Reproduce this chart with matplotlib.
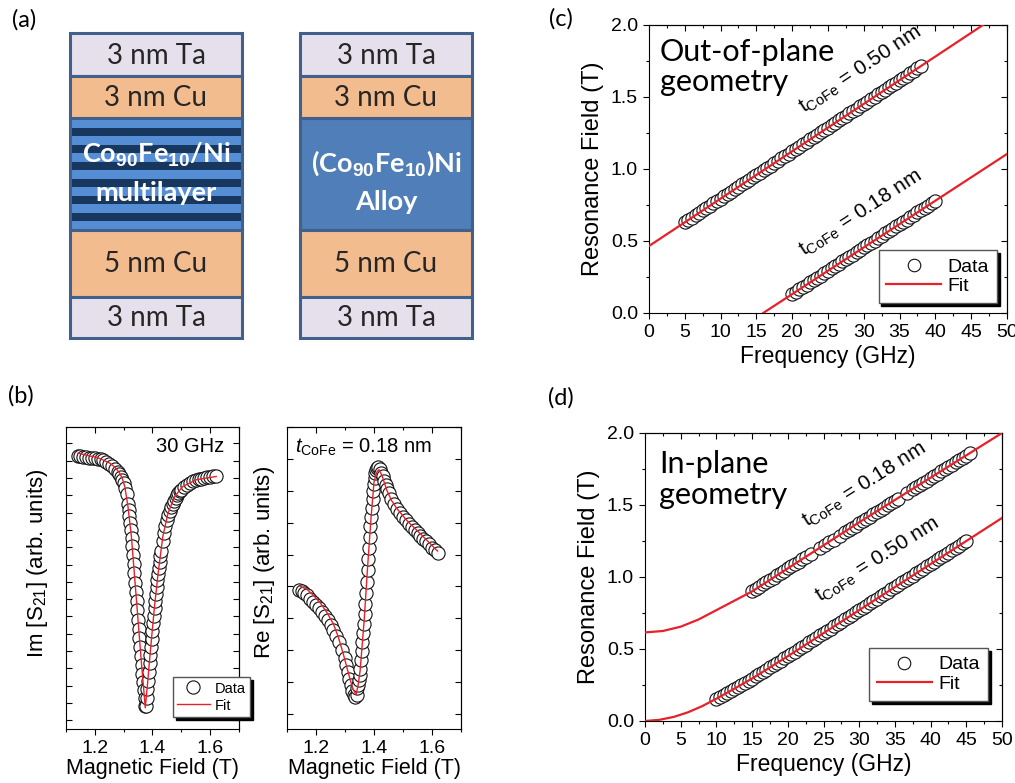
import matplotlib
matplotlib.use('Agg')
import matplotlib.pyplot as plt
from matplotlib.patches import Rectangle
from matplotlib.ticker import MultipleLocator, FormatStrFormatter, NullFormatter

plt.rcParams['font.family'] = ['Liberation Sans', 'DejaVu Sans']
plt.rcParams['mathtext.fontset'] = 'custom'
plt.rcParams['mathtext.rm'] = 'Liberation Sans'
plt.rcParams['mathtext.it'] = 'Liberation Sans:italic'
plt.rcParams['mathtext.bf'] = 'Liberation Sans:bold'

# ---------------- data ----------------
# (a) layer stacks, top to bottom
layer_labels = ['3 nm Ta', '3 nm Cu', None, '5 nm Cu', '3 nm Ta']
layer_heights = [43, 42, 112, 67, 41]   # px
layer_colors = ['#E6E0EC', '#F3BC8F', None, '#F3BC8F', '#E6E0EC']
ml_text = [r'Co$_{\mathbf{90}}$Fe$_{\mathbf{10}}$/Ni', 'multilayer']
alloy_text = [r'(Co$_{\mathbf{90}}$Fe$_{\mathbf{10}}$)Ni', 'Alloy']

# (b) Im[S21] at 30 GHz
B_im = [1.14, 1.15, 1.16, 1.17, 1.18, 1.19, 1.20, 1.21, 1.22, 1.23, 1.24, 1.25, 1.26, 1.27, 1.28,
        1.285, 1.29, 1.295, 1.30, 1.305, 1.31, 1.315,
        1.3175, 1.32, 1.3225, 1.325, 1.3275, 1.33, 1.3325, 1.335, 1.3375, 1.34,
        1.3425, 1.345, 1.3475, 1.35, 1.3525, 1.355, 1.3575, 1.36, 1.3625, 1.365,
        1.3675, 1.37, 1.3725, 1.375, 1.3775, 1.38, 1.3825, 1.385, 1.3875, 1.39,
        1.3925, 1.395, 1.3975, 1.40, 1.4025, 1.405, 1.4075, 1.41, 1.4125, 1.415,
        1.4175, 1.42, 1.4225, 1.425, 1.4275, 1.43,
        1.435, 1.44, 1.445, 1.45, 1.455, 1.46, 1.465, 1.47, 1.475, 1.48, 1.485, 1.49, 1.495, 1.50,
        1.51, 1.52, 1.53, 1.54, 1.55, 1.56, 1.57, 1.58, 1.59, 1.60, 1.61, 1.62]
im_s21 = [15.30, 15.25, 15.22, 15.20, 15.18, 15.17, 15.15, 15.12, 15.10, 15.02, 14.92, 14.82, 14.70, 14.55, 14.35,
          14.22, 14.08, 13.90, 13.70, 13.45, 13.10, 12.50,
          12.15, 11.80, 11.42, 11.00, 10.55, 10.05, 9.55, 9.03, 8.50, 7.95,
          7.42, 6.88, 6.35, 5.80, 5.27, 4.75, 4.22, 3.70, 3.20, 2.70,
          2.22, 1.75, 1.30, 0.85, 0.85, 1.30, 1.80, 2.30, 2.80, 3.30,
          3.78, 4.25, 4.72, 5.18, 5.62, 6.05, 6.48, 6.90, 7.30, 7.70,
          8.08, 8.45, 8.80, 9.15, 9.48, 9.80,
          10.35, 10.82, 11.22, 11.55, 11.85, 12.10, 12.32, 12.52, 12.70, 12.86, 13.00, 13.12, 13.23, 13.33,
          13.50, 13.62, 13.72, 13.80, 13.86, 13.92, 13.97, 14.01, 14.04, 14.07, 14.09, 14.10]
B_im_fit = [1.142, 1.16, 1.18, 1.206, 1.23, 1.252, 1.27, 1.286, 1.296, 1.304, 1.315, 1.327, 1.338,
            1.350, 1.361, 1.369, 1.375, 1.382, 1.392, 1.407, 1.421, 1.436, 1.454, 1.477, 1.505, 1.552, 1.621]
im_s21_fit = [15.44, 15.36, 15.28, 15.20, 15.03, 14.86, 14.62, 14.29, 13.95, 13.51, 12.36, 10.62, 8.30,
              5.79, 3.47, 1.93, 0.73, 1.93, 3.86, 6.56, 8.69, 10.62, 11.97, 12.93, 13.51, 13.90, 14.09]

# (b) Re[S21]
B_re = [1.14, 1.15, 1.16, 1.17, 1.18, 1.19, 1.20, 1.21, 1.22, 1.23, 1.24, 1.25, 1.26, 1.27, 1.28, 1.29, 1.30,
        1.305, 1.31, 1.315, 1.32, 1.325, 1.33, 1.335, 1.34,
        1.3425, 1.345, 1.3475, 1.35, 1.3525, 1.355, 1.3575, 1.36, 1.3625, 1.365,
        1.3675, 1.37, 1.3725, 1.375, 1.3775, 1.38, 1.3825, 1.385, 1.3875, 1.39,
        1.3925, 1.395, 1.3975, 1.40, 1.4025, 1.405, 1.4075, 1.41,
        1.415, 1.42, 1.425, 1.43, 1.435, 1.44, 1.445, 1.45,
        1.46, 1.47, 1.48, 1.49, 1.50, 1.51, 1.52, 1.53, 1.54, 1.55, 1.56, 1.57, 1.58, 1.59, 1.60, 1.61, 1.62]
re_s21 = [3.90, 3.85, 3.80, 3.72, 3.62, 3.52, 3.42, 3.32, 3.20, 3.08, 2.95, 2.80, 2.63, 2.45, 2.25, 2.02, 1.75,
          1.55, 1.33, 1.10, 0.90, 0.72, 0.58, 0.52, 0.58,
          0.80, 0.92, 1.05, 1.22, 1.40, 1.68, 1.96, 2.25, 2.53, 2.82,
          3.14, 3.46, 3.78, 4.14, 4.50, 4.86, 5.22, 5.55, 5.88, 6.18,
          6.46, 6.73, 6.98, 7.20, 7.40, 7.55, 7.66, 7.72,
          7.74, 7.68, 7.57, 7.45, 7.32, 7.18, 7.05, 6.93,
          6.75, 6.58, 6.43, 6.30, 6.18, 6.07, 5.97, 5.87, 5.78, 5.68, 5.58, 5.50, 5.41, 5.32, 5.22, 5.13, 5.05]
B_re_fit = [1.145, 1.17, 1.191, 1.215, 1.237, 1.26, 1.277, 1.295, 1.306, 1.317, 1.327, 1.338, 1.345, 1.352,
            1.366, 1.377, 1.389, 1.40, 1.41, 1.417, 1.427, 1.444, 1.46, 1.479, 1.513, 1.56, 1.619]
re_s21_fit = [4.01, 3.90, 3.72, 3.48, 3.19, 2.82, 2.41, 1.85, 1.47, 1.10, 0.79, 0.61, 0.90, 1.36,
              2.93, 4.50, 6.07, 7.28, 7.59, 7.66, 7.49, 7.02, 6.70, 6.44, 6.07, 5.65, 5.11]

# (c) out-of-plane
f_oop_050 = [5.0, 5.5, 6.0, 6.5, 7.0, 7.5, 8.0, 8.5, 9.0, 9.5,
             10.0, 10.5, 11.0, 11.5, 12.0, 12.5, 13.0, 13.5, 14.0, 14.5,
             15.0, 15.5, 16.0, 16.5, 17.0, 17.5, 18.0, 18.5, 19.0, 19.5,
             20.0, 20.5, 21.0, 21.5, 22.0, 22.5, 23.0, 23.5, 24.0, 24.5,
             25.0, 25.5, 26.0, 26.5, 27.0, 27.5, 28.0, 28.5, 29.0, 29.5,
             30.0, 30.5, 31.0, 31.5, 32.0, 32.5, 33.0, 33.5, 34.0, 34.5,
             35.0, 35.5, 36.0, 36.5, 37.0, 37.5, 38.0]
H_oop_050 = [0.630, 0.646, 0.662, 0.679, 0.695, 0.712, 0.728, 0.745, 0.761, 0.778,
             0.794, 0.810, 0.827, 0.843, 0.860, 0.876, 0.893, 0.909, 0.926, 0.942,
             0.959, 0.975, 0.991, 1.008, 1.024, 1.041, 1.057, 1.074, 1.090, 1.107,
             1.123, 1.139, 1.156, 1.172, 1.189, 1.205, 1.222, 1.238, 1.255, 1.271,
             1.288, 1.304, 1.320, 1.337, 1.353, 1.370, 1.386, 1.403, 1.419, 1.436,
             1.452, 1.468, 1.485, 1.501, 1.518, 1.534, 1.551, 1.567, 1.584, 1.600,
             1.616, 1.633, 1.649, 1.666, 1.682, 1.699, 1.715]
f_oop_018 = [20.0, 20.5, 21.0, 21.5, 22.0, 22.5, 23.0, 23.5, 24.0, 24.5,
             25.0, 25.5, 26.0, 26.5, 27.0, 27.5, 28.0, 28.5, 29.0, 29.5,
             30.0, 30.5, 31.0, 31.5, 32.0, 32.5, 33.0, 33.5, 34.0, 34.5,
             35.0, 35.5, 36.0, 36.5, 37.0, 37.5, 38.0, 38.5, 39.0, 39.5, 40.0]
H_oop_018 = [0.131, 0.147, 0.163, 0.179, 0.196, 0.212, 0.228, 0.244, 0.260, 0.277,
             0.293, 0.309, 0.325, 0.341, 0.358, 0.374, 0.390, 0.406, 0.422, 0.439,
             0.455, 0.471, 0.487, 0.503, 0.520, 0.536, 0.552, 0.568, 0.584, 0.601,
             0.617, 0.633, 0.649, 0.665, 0.682, 0.698, 0.714, 0.730, 0.746, 0.763, 0.779]
f_oop_050_fit = [0.0, 50.0]
H_oop_050_fit = [0.465, 2.110]
f_oop_018_fit = [15.96, 50.0]
H_oop_018_fit = [0.0, 1.104]

# (d) in-plane
f_ip_018 = [15.0, 15.5, 16.0, 16.5, 17.0, 17.5, 18.0, 18.5, 19.0, 19.5, 20.0, 20.5, 21.0, 21.5, 22.0, 22.5,
            23.3, 24.5, 25.2, 25.8, 26.4, 27.3,
            28.0, 28.5, 29.0, 29.5, 30.0, 30.5, 31.0, 31.5, 32.0, 32.5, 33.0, 33.5, 34.0, 34.5, 35.0, 35.5,
            36.7,
            37.5, 38.0, 38.5, 39.0, 39.5, 40.0, 40.5, 41.0, 41.5, 42.0, 42.5, 43.0, 43.5, 44.0, 44.5, 45.0, 45.5]
H_ip_018 = [0.900, 0.916, 0.932, 0.948, 0.964, 0.980, 0.996, 1.012, 1.028, 1.044, 1.060, 1.076, 1.091, 1.107, 1.123, 1.138,
            1.163, 1.201, 1.223, 1.241, 1.260, 1.288,
            1.310, 1.326, 1.341, 1.357, 1.373, 1.388, 1.404, 1.420, 1.436, 1.451, 1.467, 1.482, 1.498, 1.514, 1.530, 1.545,
            1.583,
            1.608, 1.623, 1.639, 1.655, 1.670, 1.686, 1.702, 1.717, 1.733, 1.749, 1.764, 1.780, 1.796, 1.811, 1.827, 1.843, 1.858]
f_ip_050 = [10.0, 10.5, 11.0, 11.5, 12.0, 12.5, 13.0, 13.5, 14.0, 14.5,
            15.0, 15.5, 16.0, 16.5, 17.0, 17.5, 18.0, 18.5, 19.0, 19.5,
            20.0, 20.5, 21.0, 21.5, 22.0, 22.5, 23.0, 23.5, 24.0, 24.5,
            25.0, 25.5, 26.0, 26.5, 27.0, 27.5, 28.0, 28.5, 29.0, 29.5,
            30.0, 30.5, 31.0, 31.5, 32.0, 32.5, 33.0, 33.5, 34.0, 34.5,
            35.0, 35.5, 36.0, 36.5, 37.0, 37.5, 38.0, 38.5, 39.0, 39.5,
            40.0, 40.5, 41.0, 41.5, 42.0, 42.5, 43.0, 43.5, 44.0, 44.5, 45.0]
H_ip_050 = [0.155, 0.168, 0.182, 0.196, 0.210, 0.224, 0.238, 0.252, 0.266, 0.280,
            0.295, 0.310, 0.326, 0.341, 0.357, 0.372, 0.388, 0.403, 0.419, 0.434,
            0.450, 0.466, 0.482, 0.498, 0.514, 0.530, 0.546, 0.562, 0.578, 0.594,
            0.610, 0.626, 0.642, 0.658, 0.674, 0.690, 0.706, 0.722, 0.738, 0.754,
            0.770, 0.786, 0.802, 0.818, 0.834, 0.850, 0.866, 0.882, 0.898, 0.914,
            0.930, 0.946, 0.962, 0.978, 0.994, 1.010, 1.026, 1.042, 1.058, 1.074,
            1.090, 1.106, 1.122, 1.138, 1.154, 1.170, 1.186, 1.202, 1.218, 1.234, 1.250]
f_ip_018_fit = [0, 2.5, 5, 7.5, 10, 12.5, 15, 20, 25, 30, 35, 40, 45, 50]
H_ip_018_fit = [0.615, 0.625, 0.655, 0.705, 0.770, 0.835, 0.900, 1.060, 1.220, 1.380, 1.535, 1.690, 1.845, 2.000]
f_ip_050_fit = [0, 2, 4, 6, 8, 10, 12, 15, 20, 25, 30, 35, 40, 45, 50]
H_ip_050_fit = [0.0, 0.008, 0.028, 0.060, 0.103, 0.155, 0.210, 0.295, 0.450, 0.610, 0.770, 0.930, 1.090, 1.250, 1.410]

RED = '#E8202A'

fig = plt.figure(figsize=(10.15, 7.83), dpi=100)

# ---------------- (a) schematic, drawn in pixel coords ----------------
ax0 = fig.add_axes([0, 0, 1, 1])
ax0.set_xlim(0, 1015)
ax0.set_ylim(783, 0)
ax0.axis('off')

edge = '#41618C'
stack_x = [70, 300]
stack_w = 172
stack_top = 33
for k, x0 in enumerate(stack_x):
    y = stack_top
    for lab, h, c in zip(layer_labels, layer_heights, layer_colors):
        if lab is None:
            if k == 0:
                ax0.add_patch(Rectangle((x0, y), stack_w, h, fc='#558ED5', lw=0))
                for off in [10, 27, 44, 61, 78, 95]:
                    ax0.add_patch(Rectangle((x0, y + off), stack_w, 8, fc='#17375E', lw=0))
                txt = ml_text
                ty = [y + 37, y + 75]
            else:
                ax0.add_patch(Rectangle((x0, y), stack_w, h, fc='#4F7EB8', lw=0))
                txt = alloy_text
                ty = [y + 45, y + 84]
            for t, yy in zip(txt, ty):
                ax0.text(x0 + stack_w / 2, yy, t, ha='center', va='center', color='white',
                         fontsize=19.5, fontweight='bold', family='Lato')
        else:
            ax0.add_patch(Rectangle((x0, y), stack_w, h, fc=c, lw=0))
            ax0.text(x0 + stack_w / 2, y + h / 2 + 1, lab, ha='center', va='center',
                     color='#262626', fontsize=20, family='Lato')
        ax0.add_patch(Rectangle((x0, y), stack_w, h, fc='none', ec=edge, lw=2.2))
        y += h


def add_mirror_ticks(ax, xmaj, xmin, ymaj, ymin, ylen=4.5):
    sx = ax.secondary_xaxis('top')
    sx.xaxis.set_major_locator(MultipleLocator(xmaj))
    sx.xaxis.set_minor_locator(MultipleLocator(xmin))
    sx.xaxis.set_major_formatter(NullFormatter())
    sx.tick_params(which='major', direction='in', length=4.5, width=0.8)
    sx.tick_params(which='minor', direction='in', length=2.5, width=0.8)
    sy = ax.secondary_yaxis('right')
    sy.yaxis.set_major_locator(MultipleLocator(ymaj))
    if ymin:
        sy.yaxis.set_minor_locator(MultipleLocator(ymin))
    sy.yaxis.set_major_formatter(NullFormatter())
    sy.tick_params(which='major', direction='in', length=ylen, width=0.8)
    sy.tick_params(which='minor', direction='in', length=2.5, width=0.8)


# ---------------- (b) ----------------
def s21_axes(rect, ylim, xdata, ydata, xfit, yfit, ylabel, label_xy):
    ax = fig.add_axes(rect)
    ax.plot(xdata, ydata, 'o', ms=9.5, mfc='white', mec='#111111', mew=0.8, ls='none', label='Data', zorder=2)
    ax.plot(xfit, yfit, color=RED, lw=1.0, label='Fit', zorder=3)
    ax.set_xlim(1.1, 1.7)
    ax.set_ylim(*ylim)
    ax.xaxis.set_major_locator(MultipleLocator(0.2))
    ax.xaxis.set_minor_locator(MultipleLocator(0.1))
    ax.xaxis.set_major_formatter(FormatStrFormatter('%.1f'))
    ax.yaxis.set_major_locator(MultipleLocator(1))
    ax.tick_params(axis='x', which='both', direction='out', labelsize=14, width=0.8)
    ax.tick_params(axis='x', which='major', length=4.5)
    ax.tick_params(axis='x', which='minor', length=2.5)
    ax.tick_params(axis='y', which='both', direction='in', length=4, width=0.8, labelleft=False)
    add_mirror_ticks(ax, 0.2, 0.1, 1, None, ylen=4)
    ax.set_xlabel('Magnetic Field (T)', fontsize=15.5, labelpad=1)
    ax.set_ylabel(ylabel, fontsize=16)
    ax.yaxis.set_label_coords(*label_xy)
    return ax


axb1 = s21_axes([0.0650, 0.0690, 0.1704, 0.3857], (-0.5, 16.95), B_im, im_s21, B_im_fit, im_s21_fit,
                'Im [S$_{21}$] (arb. units)', (-0.092, 0.55))
axb1.text(0.913, 0.967, '30 GHz', transform=axb1.transAxes, ha='right', va='top', fontsize=14.5)
axb1.legend(loc='lower right', bbox_to_anchor=(1.064, 0.04), fontsize=10.5, frameon=True, fancybox=False,
            framealpha=1, edgecolor='#555555', shadow={'color': 'black', 'alpha': 1},
            handlelength=2.2, borderpad=0.3, labelspacing=0.2, handletextpad=0.35, borderaxespad=0)

axb2 = s21_axes([0.2828, 0.0690, 0.1714, 0.3857], (-0.47, 9.0), B_re, re_s21, B_re_fit, re_s21_fit,
                'Re [S$_{21}$] (arb. units)', (-0.057, 0.55))
axb2.text(0.046, 0.967, r'$t_{\rm CoFe}$ = 0.18 nm', transform=axb2.transAxes, ha='left', va='top', fontsize=14.5)


# ---------------- (c), (d) ----------------
def freq_axes(rect):
    ax = fig.add_axes(rect)
    ax.set_xlim(0, 50)
    ax.set_ylim(0, 2)
    ax.xaxis.set_major_locator(MultipleLocator(5))
    ax.xaxis.set_minor_locator(MultipleLocator(2.5))
    ax.yaxis.set_major_locator(MultipleLocator(0.5))
    ax.yaxis.set_minor_locator(MultipleLocator(0.25))
    ax.yaxis.set_major_formatter(FormatStrFormatter('%.1f'))
    ax.tick_params(which='both', direction='out', labelsize=14, width=0.8)
    ax.tick_params(which='major', length=4.5)
    ax.tick_params(which='minor', length=2.5)
    add_mirror_ticks(ax, 5, 2.5, 0.5, 0.25)
    ax.set_xlabel('Frequency (GHz)', fontsize=16.5, labelpad=3)
    ax.set_ylabel('Resonance Field (T)', fontsize=17, labelpad=5)
    return ax


def add_series(ax, f, H, ff, Hf):
    hd, = ax.plot(f, H, 'o', ms=9.5, mfc='white', mec='#111111', mew=0.8, ls='none', label='Data', zorder=2)
    hf, = ax.plot(ff, Hf, color=RED, lw=1.6, label='Fit', zorder=3)
    return hd, hf


def freq_legend(ax, handles, anchor):
    ax.legend(handles=handles, loc='lower right', bbox_to_anchor=anchor, fontsize=14, frameon=True,
              fancybox=False, framealpha=1, edgecolor='#555555', shadow={'color': 'black', 'alpha': 1},
              markerscale=0.95, handlelength=2.8, borderpad=0.4, labelspacing=0.1, handletextpad=0.35,
              borderaxespad=0)


axc = freq_axes([0.6394, 0.6003, 0.3527, 0.3678])
hc = add_series(axc, f_oop_050, H_oop_050, f_oop_050_fit, H_oop_050_fit)
add_series(axc, f_oop_018, H_oop_018, f_oop_018_fit, H_oop_018_fit)
axc.text(0.03, 0.955, 'Out-of-plane\ngeometry', transform=axc.transAxes, ha='left', va='top',
         fontsize=22, family='Lato', linespacing=1.1)
axc.text(29.5, 1.69, r'$\mathrm{t}_{\mathrm{CoFe}}$ = 0.50 nm', rotation=33.5, rotation_mode='anchor',
         ha='center', va='center', fontsize=15)
axc.text(29.6, 0.69, r'$\mathrm{t}_{\mathrm{CoFe}}$ = 0.18 nm', rotation=33.1, rotation_mode='anchor',
         ha='center', va='center', fontsize=15)
freq_legend(axc, list(hc), (0.972, 0.035))

axd = freq_axes([0.6355, 0.0792, 0.3517, 0.3678])
hd = add_series(axd, f_ip_018, H_ip_018, f_ip_018_fit, H_ip_018_fit)
add_series(axd, f_ip_050, H_ip_050, f_ip_050_fit, H_ip_050_fit)
axd.text(0.04, 0.94, 'In-plane\ngeometry', transform=axd.transAxes, ha='left', va='top',
         fontsize=22, family='Lato', linespacing=1.1)
axd.text(30.7, 1.64, r'$\mathrm{t}_{\mathrm{CoFe}}$ = 0.18 nm', rotation=32.3, rotation_mode='anchor',
         ha='center', va='center', fontsize=15)
axd.text(32.6, 1.12, r'$\mathrm{t}_{\mathrm{CoFe}}$ = 0.50 nm', rotation=32.3, rotation_mode='anchor',
         ha='center', va='center', fontsize=15)
freq_legend(axd, list(hd), (0.960, 0.070))

# panel labels
for lab, px, py in [('(a)', 24, 20), ('(b)', 21, 396), ('(c)', 561, 19), ('(d)', 561, 398)]:
    fig.text(px / 1015, 1 - py / 783, lab, ha='center', va='center', fontsize=17, family='Lato')

fig.savefig('out.png', dpi=100)
